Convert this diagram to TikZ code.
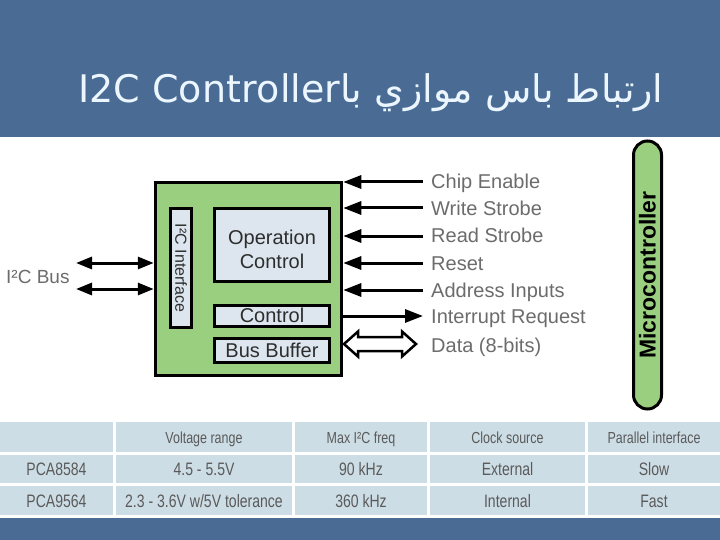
\documentclass[tikz,border=0pt]{standalone}
\usepackage{fontspec}
\setmainfont{Liberation Sans}
\newfontfamily\arabicfont[Script=Arabic]{DejaVu Sans}
\newfontfamily\narrowfont[FakeStretch=0.78]{Liberation Sans}
\TeXXeTstate=1
\usetikzlibrary{arrows.meta}
\definecolor{slide}{RGB}{74,108,148}
\definecolor{chipgreen}{RGB}{155,207,128}
\definecolor{boxfill}{RGB}{221,230,238}
\definecolor{cellfill}{RGB}{205,221,229}
\definecolor{labelgrey}{RGB}{108,108,108}
\definecolor{cellgrey}{RGB}{90,90,90}
\definecolor{boxtext}{RGB}{45,45,45}
\definecolor{titletext}{RGB}{236,246,255}
\begin{document}
\begin{tikzpicture}[x=1pt,y=-1pt,
  sig/.style={line width=3pt,-{Triangle[length=18pt,width=13pt]}},
  busarrow/.style={line width=3pt,{Triangle[length=16pt,width=12pt]}-{Triangle[length=16pt,width=12pt]}},
  lbl/.style={anchor=base west,text=labelgrey,font=\fontsize{20}{24}\selectfont,inner sep=0pt},
  inbox/.style={draw=black,line width=3.5pt,fill=boxfill,inner sep=0pt},
  boxlbl/.style={anchor=base,text=boxtext,font=\fontsize{20}{24}\selectfont,inner sep=0pt},
  hcell/.style={fill=cellfill,inner sep=0pt,text height=12pt,text depth=0pt,text=cellgrey,font=\narrowfont\fontsize{16}{18}\selectfont},
  bcell/.style={fill=cellfill,inner sep=0pt,text height=13pt,text depth=0pt,text=cellgrey,font=\narrowfont\fontsize{18}{20}\selectfont},
  r0/.style={minimum height=30pt},
  r1/.style={minimum height=28pt},
  r2/.style={minimum height=29pt},
  k1/.style={minimum width=113pt},
  k2/.style={minimum width=176pt},
  k3/.style={minimum width=132pt},
  k4/.style={minimum width=155pt},
  k5/.style={minimum width=132pt}]
% background
\useasboundingbox (0,0) rectangle (720,540);
\fill[white] (0,0) rectangle (720,540);
\fill[slide] (0,0) rectangle (720,137);
\fill[slide] (0,518) rectangle (720,540);
% title
\node[anchor=base,inner sep=0pt,text=titletext,font=\arabicfont\fontsize{38}{44}\selectfont] (title) at (371,103)
  {\beginR ارتباط باس موازي با\beginL I2C Controller\endL\endR};
% controller block
\node[draw=black,line width=3.5pt,fill=chipgreen,inner sep=0pt,minimum width=186pt,minimum height=193pt] (ctl) at (248.5,279) {};
\node[inbox,minimum width=21pt,minimum height=119pt] (iface) at (181,268) {};
\node[rotate=-90,text=boxtext,font=\fontsize{16}{18}\selectfont,inner sep=0pt] (ifacetext) at (iface.center) {I²C Interface};
\node[inbox,minimum width=115pt,minimum height=73pt] (op) at (272,245) {};
\node[boxlbl] (optext1) at (272,244) {Operation};
\node[boxlbl] (optext2) at (272,268) {Control};
\node[inbox,minimum width=115pt,minimum height=21pt] (ctrl) at (272,316) {};
\node[boxlbl] (ctrltext) at (272,322.5) {Control};
\node[inbox,minimum width=115pt,minimum height=24pt] (buf) at (272,350.5) {};
\node[boxlbl] (buftext) at (272,357.5) {Bus Buffer};
% I2C bus
\coordinate (b1) at (76,263);
\coordinate (b2) at (76,289);
\draw[busarrow] (b1) -- (b1 -| ctl.west);
\draw[busarrow] (b2) -- (b2 -| ctl.west);
\node[lbl,font=\fontsize{19}{22}\selectfont] (bus) at (6,283) {I²C Bus};
% microcontroller signals
\coordinate (s1) at (423,182);
\coordinate (s2) at (423,208);
\coordinate (s3) at (423,236);
\coordinate (s4) at (423,263);
\coordinate (s5) at (423,290);
\coordinate (s6) at (423,316);
\draw[sig] (s1) -- (s1 -| ctl.east);
\draw[sig] (s2) -- (s2 -| ctl.east);
\draw[sig] (s3) -- (s3 -| ctl.east);
\draw[sig] (s4) -- (s4 -| ctl.east);
\draw[sig] (s5) -- (s5 -| ctl.east);
\draw[sig] (s6 -| ctl.east) -- (s6);
\coordinate (dL) at (344,344);
\draw[line width=2.5pt,fill=white,line join=miter] (dL) -- ++(14,-12.5) -- ++(0,5.5) -- ++(44,0) -- ++(0,-5.5) -- ++(14,12.5)
  -- ++(-14,12.5) -- ++(0,-5.5) -- ++(-44,0) -- ++(0,5.5) -- cycle;
\node[lbl] (l1) at (431,189) {Chip Enable};
\node[lbl] (l2) at (431,215) {Write Strobe};
\node[lbl] (l3) at (431,243) {Read Strobe};
\node[lbl] (l4) at (431,270) {Reset};
\node[lbl] (l5) at (431,297) {Address Inputs};
\node[lbl] (l6) at (431,323) {Interrupt Request};
\node[lbl] (l7) at (431,352) {Data (8-bits)};
% microcontroller
\node[draw=black,line width=3pt,fill=chipgreen,rounded corners=14pt,inner sep=0pt,minimum width=28pt,minimum height=268pt] (mcu) at (647.5,275) {};
\node[rotate=90,font=\bfseries\fontsize{23}{26}\selectfont,inner sep=0pt] (mcutext) at (mcu.center) {Microcontroller};
% table
\node[hcell,r0,k1] (h1) at (56.5,437) {};
\node[hcell,r0,k2] (h2) at (204,437) {Voltage range};
\node[hcell,r0,k3] (h3) at (361,437) {Max I²C freq};
\node[hcell,r0,k4] (h4) at (507.5,437) {Clock source};
\node[hcell,r0,k5] (h5) at (654,437) {Parallel interface};
\node[bcell,r1,k1] (a1) at (56.5,469) {PCA8584};
\node[bcell,r1,k2] (a2) at (204,469) {4.5 - 5.5V};
\node[bcell,r1,k3] (a3) at (361,469) {90 kHz};
\node[bcell,r1,k4] (a4) at (507.5,469) {External};
\node[bcell,r1,k5] (a5) at (654,469) {Slow};
\node[bcell,r2,k1] (c1) at (56.5,500.5) {PCA9564};
\node[bcell,r2,k2] (c2) at (204,500.5) {2.3 - 3.6V w/5V tolerance};
\node[bcell,r2,k3] (c3) at (361,500.5) {360 kHz};
\node[bcell,r2,k4] (c4) at (507.5,500.5) {Internal};
\node[bcell,r2,k5] (c5) at (654,500.5) {Fast};
\end{tikzpicture}
\end{document}
